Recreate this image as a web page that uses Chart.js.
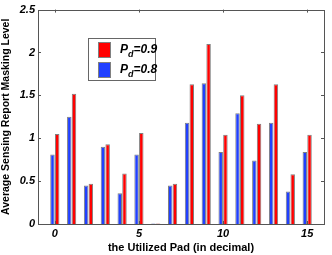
<!DOCTYPE html>
<html>
<head>
<meta charset="utf-8">
<script src="https://cdn.jsdelivr.net/npm/chart.js@4"></script>
<style>
  html, body { margin: 0; padding: 0; background: #fff; }
</style>
</head>
<body>
<canvas id="chart" width="332" height="255"></canvas>
<script>
  // valeurs
  const pads = [0, 1, 2, 3, 4, 5, 6, 7, 8, 9, 10, 11, 12, 13, 14, 15];
  const pd08 = [0.81, 1.25, 0.45, 0.90, 0.36, 0.81, 0.005, 0.45, 1.18, 1.64, 0.84, 1.29, 0.74, 1.18, 0.38, 0.84];
  const pd09 = [1.05, 1.52, 0.47, 0.93, 0.59, 1.06, 0.005, 0.47, 1.63, 2.10, 1.04, 1.50, 1.17, 1.63, 0.58, 1.04];
  const xTicks = [0, 5, 10, 15];
  const yTicks = [0, 0.5, 1, 1.5, 2, 2.5];
  const legendLabels = ['0.9', '0.8'];

  const BLUE = '#2040ff';
  const RED = '#ff0000';
  const EDGE = '#808080';
  const FRAME = '#555555';
  const FONT = '"Liberation Sans", Arial, sans-serif';

  // cadre + graduations vers l'intérieur, façon matlab
  const boxPlugin = {
    id: 'box',
    afterDraw(chart) {
      const ctx = chart.ctx;
      const a = chart.chartArea;
      const xs = chart.scales.x, ys = chart.scales.y;
      ctx.save();
      ctx.strokeStyle = FRAME;
      ctx.lineWidth = 1;
      ctx.strokeRect(Math.round(a.left) + 0.5, Math.round(a.top) + 0.5,
                     Math.round(a.right - a.left), Math.round(a.bottom - a.top));
      ctx.beginPath();
      xTicks.forEach(v => {
        const px = Math.round(xs.getPixelForValue(v)) + 0.5;
        ctx.moveTo(px, a.bottom); ctx.lineTo(px, a.bottom - 3);
        ctx.moveTo(px, a.top); ctx.lineTo(px, a.top + 3);
      });
      yTicks.forEach(v => {
        const py = Math.round(ys.getPixelForValue(v)) + 0.5;
        ctx.moveTo(a.left, py); ctx.lineTo(a.left + 3, py);
        ctx.moveTo(a.right, py); ctx.lineTo(a.right - 3, py);
      });
      ctx.stroke();

      // légende
      const lx = 88, ly = 38, lw = 67, lh = 42;
      ctx.fillStyle = '#fff';
      ctx.fillRect(lx, ly, lw, lh);
      ctx.strokeStyle = '#666';
      ctx.strokeRect(lx + 0.5, ly + 0.5, lw, lh);
      const items = [
        { color: RED, text: legendLabels[0] },
        { color: BLUE, text: legendLabels[1] }
      ];
      items.forEach((it, i) => {
        const sy = ly + 4 + i * 20;
        ctx.fillStyle = it.color;
        ctx.fillRect(lx + 10, sy, 12, 15);
        ctx.strokeStyle = EDGE;
        ctx.strokeRect(lx + 10.5, sy + 0.5, 12, 15);
        ctx.fillStyle = '#000';
        ctx.textBaseline = 'alphabetic';
        ctx.textAlign = 'left';
        ctx.font = 'italic bold 12px ' + FONT;
        const tx = lx + 32, ty = sy + 11;
        ctx.fillText('P', tx, ty);
        const pw = ctx.measureText('P').width;
        ctx.font = 'italic bold 9px ' + FONT;
        ctx.fillText('d', tx + pw, ty + 4);
        const dw = ctx.measureText('d').width;
        ctx.font = 'italic bold 12px ' + FONT;
        ctx.fillText('=' + it.text, tx + pw + dw, ty);
      });
      ctx.restore();
    }
  };

  const ctx = document.getElementById('chart').getContext('2d');
  new Chart(ctx, {
    type: 'bar',
    data: {
      datasets: [
        {
          label: 'Pd=0.8',
          data: pads.map((p, i) => ({ x: p, y: pd08[i] })),
          backgroundColor: BLUE,
          borderColor: EDGE,
          borderWidth: 1
        },
        {
          label: 'Pd=0.9',
          data: pads.map((p, i) => ({ x: p, y: pd09[i] })),
          backgroundColor: RED,
          borderColor: EDGE,
          borderWidth: 1
        }
      ]
    },
    options: {
      responsive: false,
      animation: false,
      events: [],
      layout: { padding: { left: 0, right: 8, top: 8, bottom: 0 } },
      datasets: { bar: { categoryPercentage: 0.56, barPercentage: 0.95 } },
      plugins: { legend: { display: false }, tooltip: { enabled: false } },
      scales: {
        x: {
          type: 'linear',
          min: -1,
          max: 16,
          offset: false,
          grid: { display: false, drawTicks: false },
          border: { display: false },
          afterBuildTicks: s => { s.ticks = xTicks.map(v => ({ value: v })); },
          afterFit: s => { s.height = 31; },
          ticks: {
            padding: 3,
            color: '#000',
            callback: v => String(v),
            font: { family: FONT, size: 11, weight: 'bold', style: 'italic' }
          },
          title: {
            display: true,
            text: 'the Utilized Pad (in decimal)',
            color: '#000',
            padding: { top: 0, bottom: 0 },
            font: { family: FONT, size: 11, weight: 'bold' }
          }
        },
        y: {
          min: 0,
          max: 2.5,
          grid: { display: false, drawTicks: false },
          border: { display: false },
          afterBuildTicks: s => { s.ticks = yTicks.map(v => ({ value: v })); },
          afterFit: s => { s.width = 38; },
          ticks: {
            padding: 3,
            color: '#000',
            callback: v => String(v),
            font: { family: FONT, size: 11, weight: 'bold', style: 'italic' }
          },
          title: {
            display: true,
            text: 'Average Sensing Report Masking Level',
            color: '#000',
            padding: { top: 0, bottom: 0 },
            font: { family: FONT, size: 10.5, weight: 'bold' }
          }
        }
      }
    },
    plugins: [boxPlugin]
  });
</script>
</body>
</html>
